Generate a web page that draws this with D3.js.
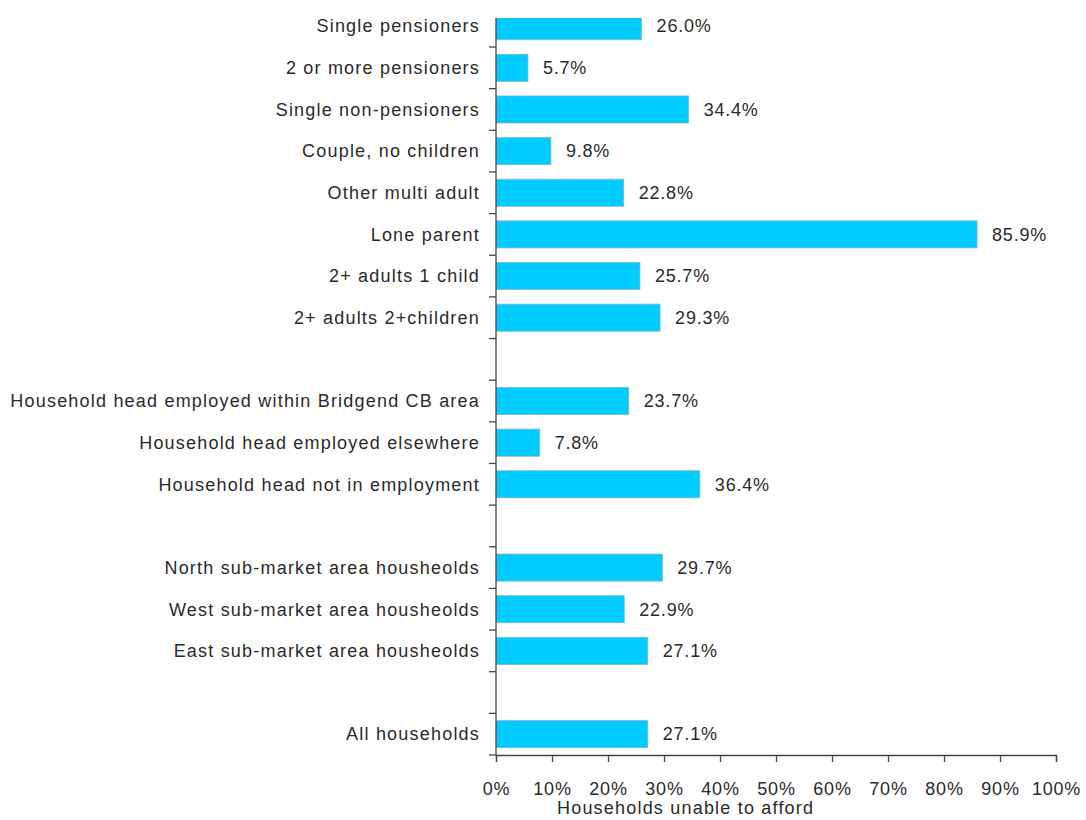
<!DOCTYPE html>
<html>
<head>
<meta charset="utf-8">
<script src="https://cdn.jsdelivr.net/npm/d3@7"></script>
<style>
  html, body { margin: 0; padding: 0; background: #fff; }
  svg { display: block; }
  text { font-family: "Liberation Sans", Arial, sans-serif; fill: #2a2a2a; }
</style>
</head>
<body>
<svg id="chart" width="1086" height="820"></svg>
<script>
// Household groups, top to bottom; empty strings are spacer rows between groups
const categories = [
  "Single pensioners",
  "2 or more pensioners",
  "Single non-pensioners",
  "Couple, no children",
  "Other multi adult",
  "Lone parent",
  "2+ adults 1 child",
  "2+ adults 2+children",
  "",
  "Household head employed within Bridgend CB area",
  "Household head employed elsewhere",
  "Household head not in employment",
  "",
  "North sub-market area housheolds",
  "West sub-market area housheolds",
  "East sub-market area housheolds",
  "",
  "All households"
];

// Share of households unable to afford (%), null for spacer rows
const values = [26.0, 5.7, 34.4, 9.8, 22.8, 85.9, 25.7, 29.3, null,
                23.7, 7.8, 36.4, null, 29.7, 22.9, 27.1, null, 27.1];

const xTicks = [0, 10, 20, 30, 40, 50, 60, 70, 80, 90, 100];
const xTitle = "Households unable to afford";

const rows = categories.map((c, i) => ({ id: i, label: c, value: values[i] }));

const svg = d3.select("#chart");
const plotLeft = 496, plotRight = 1056;
const plotTop = 18, plotBottom = 755;
const bandTop = 5.35;

const x = d3.scaleLinear().domain([0, 100]).range([plotLeft, plotRight]);
const y = d3.scaleBand()
  .domain(rows.map(d => d.id))
  .range([bandTop, plotBottom])
  .paddingInner(0.35)
  .paddingOuter(0.175);

const step = y.step();
const fontSize = 18;

svg.append("defs").append("clipPath").attr("id", "plotClip")
  .append("rect")
  .attr("x", plotLeft).attr("y", plotTop)
  .attr("width", plotRight - plotLeft + 100).attr("height", plotBottom - plotTop);

// Bars
svg.append("g").attr("clip-path", "url(#plotClip)")
  .selectAll("rect")
  .data(rows.filter(d => d.value != null))
  .join("rect")
  .attr("x", x(0))
  .attr("y", d => y(d.id))
  .attr("width", d => x(d.value) - x(0))
  .attr("height", y.bandwidth())
  .attr("fill", "#00CCFF")
  .attr("stroke", "#86b3c4")
  .attr("stroke-width", 0.8);

// Value labels
svg.append("g")
  .selectAll("text")
  .data(rows.filter(d => d.value != null))
  .join("text")
  .attr("x", d => x(d.value) + 15)
  .attr("y", d => y(d.id) + y.bandwidth() / 2)
  .attr("dy", "0.35em")
  .attr("font-size", fontSize)
  .attr("letter-spacing", "0.8px")
  .text(d => d.value.toFixed(1) + "%");

// Category labels
svg.append("g")
  .selectAll("text")
  .data(rows.filter(d => d.label))
  .join("text")
  .attr("x", plotLeft - 16)
  .attr("y", d => y(d.id) + y.bandwidth() / 2)
  .attr("dy", "0.35em")
  .attr("text-anchor", "end")
  .attr("font-size", fontSize)
  .attr("letter-spacing", "1.2px")
  .text(d => d.label);

// Vertical axis line with ticks at band boundaries
const yAxis = svg.append("g").attr("stroke", "#444").attr("stroke-width", 1.3);
yAxis.append("line")
  .attr("x1", plotLeft).attr("x2", plotLeft)
  .attr("y1", plotTop).attr("y2", plotBottom);
const boundaries = d3.range(1, rows.length + 1).map(i => bandTop + i * step);
yAxis.selectAll("line.tick")
  .data(boundaries)
  .join("line")
  .attr("class", "tick")
  .attr("x1", plotLeft - 7).attr("x2", plotLeft)
  .attr("y1", d => d).attr("y2", d => d);

// Horizontal axis
const xAxis = d3.axisBottom(x)
  .tickValues(xTicks)
  .tickSize(7)
  .tickPadding(20)
  .tickFormat(d => d + "%");
const gx = svg.append("g")
  .attr("transform", `translate(0,${plotBottom})`)
  .call(xAxis);
gx.select(".domain").attr("stroke", "#444").attr("stroke-width", 1.3);
gx.selectAll(".tick line").attr("stroke", "#444").attr("stroke-width", 1.3);
gx.selectAll(".tick text")
  .attr("font-size", fontSize)
  .attr("font-family", "Liberation Sans, Arial, sans-serif")
  .attr("fill", "#2a2a2a")
  .attr("letter-spacing", "0.8px");

// Axis title
svg.append("text")
  .attr("x", 557)
  .attr("y", 814)
  .attr("font-size", fontSize)
  .attr("letter-spacing", "1.2px")
  .text(xTitle);
</script>
</body>
</html>
